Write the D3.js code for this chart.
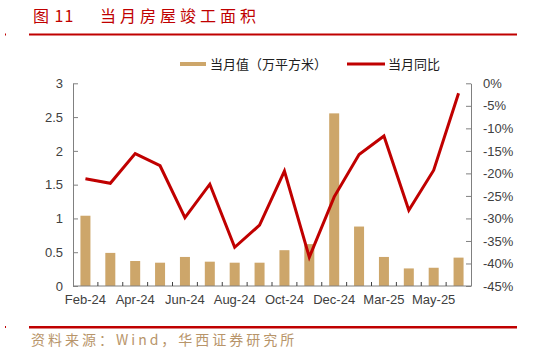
<!DOCTYPE html>
<html><head><meta charset="utf-8">
<script src="https://cdn.jsdelivr.net/npm/d3@7/dist/d3.min.js"></script>
<style>body{margin:0;background:#fff;} svg{display:block;}</style>
</head><body>
<script>
const categories = ["Feb-24","Mar-24","Apr-24","May-24","Jun-24","Jul-24","Aug-24","Sep-24","Oct-24","Nov-24","Dec-24","Feb-25","Mar-25","Apr-25","May-25","Jun-25"];
const monthlyValue = [1.04,0.49,0.37,0.345,0.43,0.36,0.345,0.345,0.53,0.62,2.555,0.88,0.43,0.26,0.27,0.42];
const yoy = [-21.2,-22.2,-15.6,-18.3,-29.8,-22.4,-36.4,-31.5,-19.5,-38.6,-25.2,-15.8,-11.7,-28.2,-19.3,-2.2];
const leftTicks = [0,0.5,1,1.5,2,2.5,3];
const rightTicks = [0,-5,-10,-15,-20,-25,-30,-35,-40,-45];
const labelEvery = 2;

const W=534,H=354;
const svg=d3.select("body").append("svg").attr("width",W).attr("height",H);
const red="#c00000", tan="#cda66a", axisCol="#808080", txt="#404040";
const font="'Liberation Sans', Arial, sans-serif";
const cjk="'Noto Sans CJK SC', sans-serif";

// title
svg.append("text").attr("x",33).attr("y",22).attr("fill",red).attr("font-family",cjk)
  .attr("font-size",16).attr("letter-spacing",1).text("图 11");
svg.append("text").attr("x",100).attr("y",22).attr("fill",red).attr("font-family",cjk)
  .attr("font-size",16).attr("letter-spacing",4).text("当月房屋竣工面积");
svg.append("rect").attr("x",29).attr("y",33.5).attr("width",488).attr("height",2).attr("fill",red);
svg.append("rect").attr("x",5).attr("y",33.5).attr("width",1).attr("height",2).attr("fill",red);
svg.append("rect").attr("x",29).attr("y",326).attr("width",488).attr("height",2.5).attr("fill",red);
svg.append("rect").attr("x",5).attr("y",326).attr("width",1).attr("height",2).attr("fill",red);
svg.append("text").attr("x",31).attr("y",345).attr("fill","#b8956a").attr("font-family",cjk)
  .attr("font-size",14).attr("letter-spacing",3).text("资料来源：Wind，华西证券研究所");

const x0=73,x1=471,yTop=83.3,yBot=286;
const x=d3.scaleBand().domain(categories).range([x0,x1]).paddingInner(0.6).paddingOuter(0.3);
const xb=d3.scaleBand().domain(categories).range([x0,x1]);
const yL=d3.scaleLinear().domain([0,3]).range([yBot,yTop]);
const yR=d3.scaleLinear().domain([-45,0]).range([yBot,yTop]);

// bars
svg.append("g").selectAll("rect").data(categories).join("rect")
  .attr("x",d=>xb(d)+xb.bandwidth()/2-5).attr("width",10)
  .attr("y",(d,i)=>yL(monthlyValue[i])).attr("height",(d,i)=>yBot-yL(monthlyValue[i]))
  .attr("fill",tan);

// line
const line=d3.line().x((d,i)=>xb(categories[i])+xb.bandwidth()/2).y(d=>yR(d));
svg.append("path").datum(yoy).attr("d",line).attr("fill","none").attr("stroke",red)
  .attr("stroke-width",3).attr("stroke-linejoin","miter");

// left axis
const gl=svg.append("g").attr("transform",`translate(${x0},0)`)
  .call(d3.axisLeft(yL).tickValues(leftTicks).tickFormat(d3.format("")).tickSizeInner(-5).tickSizeOuter(0).tickPadding(10));
gl.selectAll("text").attr("font-family",font).attr("font-size",13).attr("fill",txt);
gl.selectAll("line").attr("stroke",axisCol);
gl.select(".domain").attr("stroke",axisCol);

// right axis
const gr=svg.append("g").attr("transform",`translate(${x1},0)`)
  .call(d3.axisRight(yR).tickValues(rightTicks).tickFormat(d=>d+"%").tickSizeInner(-5).tickSizeOuter(0).tickPadding(12));
gr.selectAll("text").attr("font-family",font).attr("font-size",13).attr("fill",txt);
gr.selectAll("line").attr("stroke",axisCol);
gr.select(".domain").attr("stroke",axisCol);

// bottom axis
const gb=svg.append("g").attr("transform",`translate(0,${yBot})`);
gb.append("line").attr("x1",x0).attr("x2",x1).attr("y1",0).attr("y2",0).attr("stroke",axisCol);
gb.selectAll("line.t").data(categories.slice(1)).join("line").attr("class","t")
  .attr("x1",d=>xb(d)).attr("x2",d=>xb(d)).attr("y1",0).attr("y2",-4).attr("stroke","#404040");
gb.selectAll("text").data(categories.filter((d,i)=>i%labelEvery===0)).join("text")
  .attr("x",d=>xb(d)+xb.bandwidth()/2).attr("y",18).attr("text-anchor","middle")
  .attr("font-family",font).attr("font-size",13).attr("fill",txt).text(d=>d);

// legend
const lg=svg.append("g");
lg.append("rect").attr("x",180).attr("y",62).attr("width",26).attr("height",4).attr("fill",tan);
lg.append("text").attr("x",210).attr("y",69).attr("font-family",cjk).attr("font-size",13).attr("fill","#202020").text("当月值（万平方米）");
lg.append("line").attr("x1",347).attr("x2",385).attr("y1",64).attr("y2",64).attr("stroke",red).attr("stroke-width",3);
lg.append("text").attr("x",388).attr("y",69).attr("font-family",cjk).attr("font-size",13).attr("fill","#202020").text("当月同比");
</script>
</body></html>
